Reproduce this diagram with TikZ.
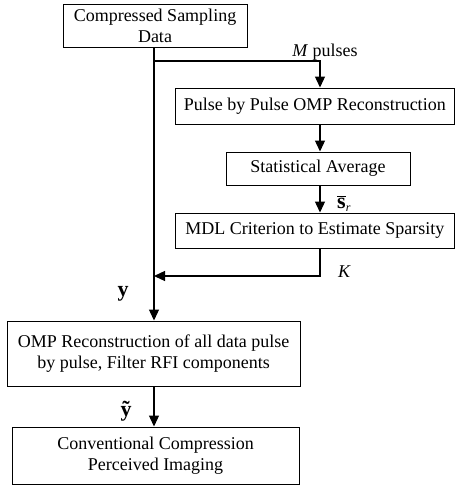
\documentclass[tikz,border=0pt]{standalone}
\usepackage{fontspec}
\setmainfont{Liberation Serif}
\usetikzlibrary{arrows.meta}
\begin{document}
\begin{tikzpicture}[x=1pt,y=-1pt,
  box/.style={draw,line width=1pt,align=center,inner sep=0pt,
    font=\fontsize{18}{21}\selectfont},
  lbl/.style={inner sep=0pt,font=\fontsize{18}{21}\selectfont},
  big/.style={inner sep=0pt,font=\fontsize{22}{24}\selectfont},
  arr/.style={line width=1.3pt,-{Triangle[length=11pt,width=10pt]}}]
\useasboundingbox (0,0) rectangle (455,488);
\coordinate (trunk) at (154,0);
\coordinate (rcol) at (320,0);
\node[box,minimum width=184pt,minimum height=43pt] (b1) at (155,25.5) {Compressed Sampling\\Data};
\node[box,minimum width=279.5pt,minimum height=36pt] (b2) at (314.75,106) {Pulse by Pulse OMP Reconstruction};
\node[box,minimum width=184pt,minimum height=33pt] (b3) at (318,168.5) {Statistical Average};
\node[box,minimum width=279.5pt,minimum height=35pt] (b4) at (314.75,230.5) {MDL Criterion to Estimate Sparsity};
\node[box,minimum width=293pt,minimum height=65pt] (b5) at (153.5,353.5) {OMP Reconstruction of all data pulse\\by pulse, Filter RFI components};
\node[box,minimum width=287pt,minimum height=57pt] (b6) at (155.5,455.5) {Conventional Compression\\Perceived Imaging};
\coordinate (br) at (154,61);
\coordinate (join) at (154,276);
\draw[arr] (b1.south -| trunk) -- (b5.north -| trunk);
\draw[arr] (br) -| (b2.north -| rcol);
\draw[arr] (b2.south -| rcol) -- (b3.north -| rcol);
\draw[arr] (b3.south -| rcol) -- (b4.north -| rcol);
\draw[arr] (b4.south -| rcol) |- (join);
\draw[arr] (b5.south -| trunk) -- (b6.north -| trunk);
\node[lbl,anchor=base] (lm) at (325,56) {\textit{M} pulses};
\node[big,anchor=base west] (ls) at (337,208) {$\overline{\hbox{\textbf{s}}}_{\hbox{\fontsize{12}{14}\selectfont\textit{r}}}$};
\node[lbl,anchor=base west] (lk) at (338,277) {\textit{K}};
\node[big,anchor=base] (ly) at (123,296) {\textbf{y}};
\node[big,anchor=base] (lyt) at (126,416) {\textbf{\~{y}}};
\end{tikzpicture}
\end{document}
